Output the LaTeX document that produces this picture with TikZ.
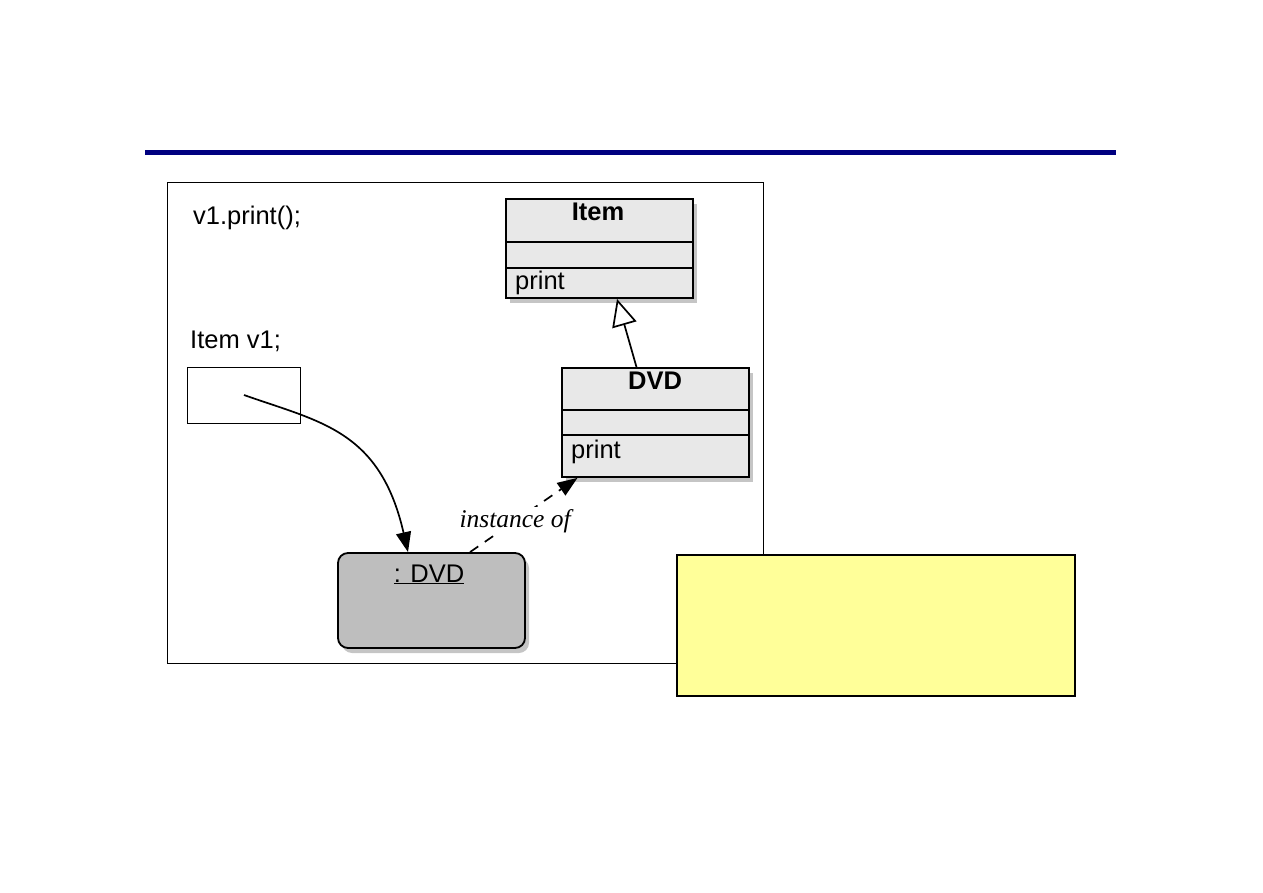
\documentclass[tikz,border=0pt]{standalone}
\usepackage{fontspec}
\setmainfont{Liberation Sans}
\newfontfamily\serifit{Liberation Serif}
\usetikzlibrary{arrows.meta,shadows,calc}
\definecolor{rulenavy}{RGB}{0,0,128}
\definecolor{classgray}{RGB}{232,232,232}
\definecolor{objgray}{RGB}{190,190,190}
\definecolor{noteyellow}{RGB}{255,255,153}
\tikzset{
  classbox/.style={draw=black, line width=1.8pt, fill=classgray, inner sep=0pt,
    drop shadow={opacity=0.45, shadow xshift=4pt, shadow yshift=-5pt}},
  objbox/.style={draw=black, line width=1.8pt, fill=objgray, rounded corners=10pt, inner sep=0pt,
    drop shadow={opacity=0.45, shadow xshift=4pt, shadow yshift=-5pt}},
  lbl/.style={font=\fontsize{25.5}{30}\selectfont, inner sep=0pt},
  blbl/.style={font=\fontsize{25.5}{30}\selectfont\bfseries, inner sep=0pt},
  conn/.style={line width=1.7pt},
}
\begin{document}
\begin{tikzpicture}[x=1pt,y=-1pt]
\useasboundingbox (0,0) rectangle (1263,893);
% top rule
\coordinate (rl) at (145,153);
\coordinate (rr) at (1116,153);
\draw[rulenavy, line width=5pt] (rl) -- (rr);
% frame
\node[draw=black, line width=1pt, fill=white, minimum width=596pt, minimum height=480pt, inner sep=0pt] (frame) at (465,423) {};
% code texts
\node[lbl, anchor=base west] (code1) at (193,225) {v1.print();};
\node[lbl, anchor=base west] (code2) at (190,348) {Item v1;};
% variable box
\node[draw=black, line width=1pt, fill=white, minimum width=113pt, minimum height=56pt, inner sep=0pt] (var) at (243.5,395) {};
\coordinate (varp) at (244,395);
% Item class
\node[classbox, minimum width=187pt, minimum height=99pt] (item) at (599.5,248.5) {};
\draw[line width=1.4pt] (item.west |- 0,242) -- (item.east |- 0,242);
\draw[line width=1.4pt] (item.west |- 0,268) -- (item.east |- 0,268);
\node[blbl, anchor=base] (itemname) at (598,221) {Item};
\node[lbl, anchor=base west] (itemop) at (515,290) {print};
% DVD class
\node[classbox, minimum width=187pt, minimum height=109pt] (dvd) at (655.5,422.5) {};
\draw[line width=1.4pt] (dvd.west |- 0,410) -- (dvd.east |- 0,410);
\draw[line width=1.4pt] (dvd.west |- 0,435) -- (dvd.east |- 0,435);
\node[blbl, anchor=base] (dvdname) at (655,389) {DVD};
\node[lbl, anchor=base west] (dvdop) at (571,458) {print};
% object
\node[objbox, minimum width=187pt, minimum height=95pt] (obj) at (431.5,600.5) {};
\node[lbl, anchor=base] (objname) at (429,582) {\underline{: DVD}};
% generalization
\draw[conn, -{Triangle[open, length=27pt, width=25pt]}] ([xshift=-19pt]dvd.north) -- ([xshift=17.5pt]item.south);
% reference arrow
\draw[conn, -{Triangle[length=20pt, width=15pt]}] (varp) .. controls (320,422) and (380,430) .. ([xshift=-23.5pt]obj.north);
% instance of
\draw[conn, dash pattern=on 10pt off 8pt, -{Triangle[length=20pt, width=15pt]}] ([xshift=38.5pt]obj.north) -- node[pos=0.42, fill=white, inner sep=2pt, font=\fontsize{25.5}{30}\selectfont\serifit\itshape] (inst) {instance of} ([xshift=-78pt]dvd.south);
% yellow note
\node[draw=black, line width=1.4pt, fill=noteyellow, minimum width=398pt, minimum height=141pt, inner sep=0pt] (note) at (876,625.5) {};
\end{tikzpicture}
\end{document}
